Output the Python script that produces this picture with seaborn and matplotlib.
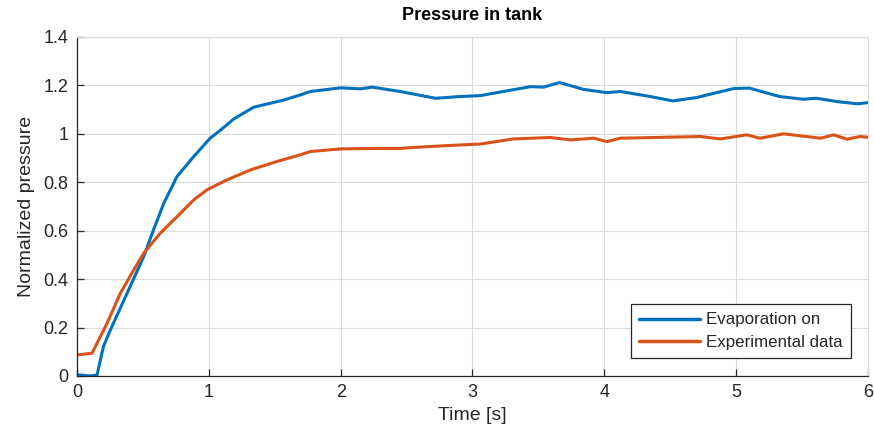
import matplotlib
matplotlib.use("Agg")
import matplotlib.pyplot as plt
import seaborn as sns
import pandas as pd
from matplotlib.ticker import FuncFormatter

# Evaporation on (simulation)
t_evap = [0.0, 0.05, 0.10, 0.152, 0.20, 0.253, 0.38, 0.506, 0.58, 0.658, 0.759, 0.885,
          1.01, 1.09, 1.19, 1.34, 1.57, 1.69, 1.77, 2.0, 2.15, 2.24, 2.45, 2.72, 2.9,
          3.06, 3.44, 3.54, 3.66, 3.84, 4.02, 4.12, 4.35, 4.52, 4.70, 4.98, 5.1, 5.33,
          5.51, 5.61, 5.77, 5.92, 6.0]
p_evap = [0.005, 0.003, 0.0, 0.004, 0.121, 0.19, 0.342, 0.493, 0.603, 0.713, 0.824, 0.906,
          0.982, 1.016, 1.062, 1.11, 1.14, 1.16, 1.175, 1.19, 1.186, 1.193, 1.175, 1.147,
          1.154, 1.158, 1.195, 1.193, 1.212, 1.184, 1.17, 1.175, 1.154, 1.136, 1.15, 1.187,
          1.189, 1.154, 1.143, 1.147, 1.133, 1.124, 1.129]

# Experimental data
t_exp = [0.0, 0.114, 0.228, 0.329, 0.43, 0.506, 0.632, 0.759, 0.885, 0.986, 1.138, 1.315,
         1.517, 1.69, 1.77, 2.0, 2.3, 2.45, 2.65, 2.9, 3.06, 3.31, 3.59, 3.74, 3.92, 4.02,
         4.12, 4.47, 4.73, 4.88, 5.08, 5.18, 5.36, 5.64, 5.74, 5.84, 5.94, 6.0]
p_exp = [0.087, 0.094, 0.218, 0.342, 0.438, 0.507, 0.59, 0.658, 0.727, 0.769, 0.81, 0.851,
         0.886, 0.913, 0.927, 0.938, 0.94, 0.94, 0.947, 0.954, 0.958, 0.979, 0.985, 0.975,
         0.982, 0.968, 0.982, 0.986, 0.989, 0.979, 0.996, 0.982, 1.0, 0.982, 0.996, 0.978,
         0.989, 0.986]

series_names = ["Evaporation on", "Experimental data"]
colors = ["#0072BD", "#D95319"]

df = pd.concat([
    pd.DataFrame({"t": t_evap, "p": p_evap, "series": series_names[0]}),
    pd.DataFrame({"t": t_exp, "p": p_exp, "series": series_names[1]}),
], ignore_index=True)

sns.set_theme(style="white")
plt.rcParams["font.family"] = ["Liberation Sans", "DejaVu Sans"]

fig = plt.figure(figsize=(8.74, 4.4), dpi=100)
ax = fig.add_axes([77/874, 1-376/440, (868-77)/874, (376-37)/440])

sns.lineplot(data=df, x="t", y="p", hue="series", palette=colors, linewidth=2.2,
             ax=ax, sort=False, estimator=None)

ax.set_xlim(0, 6)
ax.set_ylim(0, 1.4)
ax.set_xticks(range(0, 7))
ax.set_yticks([0, 0.2, 0.4, 0.6, 0.8, 1.0, 1.2, 1.4])
ax.yaxis.set_major_formatter(FuncFormatter(lambda v, p: f"{v:g}"))
ax.grid(True, color="#dcdcdc", linewidth=0.8)
ax.set_axisbelow(True)

for s in ["top", "right"]:
    ax.spines[s].set_color("#dcdcdc")
    ax.spines[s].set_linewidth(0.8)
for s in ["left", "bottom"]:
    ax.spines[s].set_color("#262626")
    ax.spines[s].set_linewidth(0.9)

ax.tick_params(axis="both", direction="in", length=5, width=0.9, color="#262626",
               labelsize=13, labelcolor="#262626", pad=6)
ax.tick_params(axis="both", which="both", top=False, right=False, left=True, bottom=True)

ax.set_xlabel("Time [s]", fontsize=14, color="#262626", labelpad=4)
ax.set_ylabel("Normalized pressure", fontsize=14, color="#262626", labelpad=6)
ax.set_title("Pressure in tank", fontsize=13, fontweight="bold", color="black", pad=12)

leg = ax.legend(loc="lower right", bbox_to_anchor=(0.979, 0.053), fontsize=12.2,
                frameon=True, fancybox=False, edgecolor="#262626", framealpha=1,
                handlelength=3.6, handletextpad=0.35, borderpad=0.5, labelspacing=0.42,
                borderaxespad=0)
leg.get_frame().set_linewidth(0.9)
for line in leg.get_lines():
    line.set_linewidth(2.5)
for txt in leg.get_texts():
    txt.set_color("#262626")

fig.savefig("out.png", dpi=100)
